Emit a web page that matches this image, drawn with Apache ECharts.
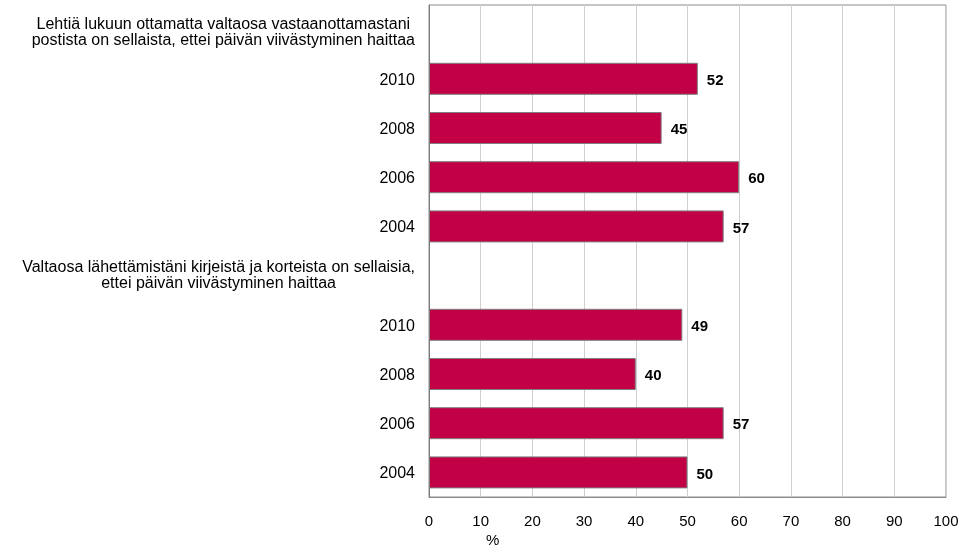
<!DOCTYPE html>
<html>
<head>
<meta charset="utf-8">
<script src="https://cdn.jsdelivr.net/npm/echarts@6/dist/echarts.min.js"></script>
<style>
  html, body { margin: 0; padding: 0; background: #fff; }
  #chart { width: 963px; height: 551px; }
</style>
</head>
<body>
<div id="chart"></div>
<script>
// Row labels, top to bottom. Group headings occupy their own rows with no bar.
const heading1 = 'Lehtiä lukuun ottamatta valtaosa vastaanottamastani\npostista on sellaista, ettei päivän viivästyminen haittaa';
const heading2 = 'Valtaosa lähettämistäni kirjeistä ja korteista on sellaisia,\nettei päivän viivästyminen haittaa';
const rowLabels = [heading1, '2010', '2008', '2006', '2004', heading2, '2010', '2008', '2006', '2004'];
const headingRows = [0, 5];

// Share of respondents (%) per year; null on heading rows.
const shareValues = [null, 52, 45, 60, 57, null, 49, 40, 57, 50];

// Value axis ticks.
const xTicks = [0, 10, 20, 30, 40, 50, 60, 70, 80, 90, 100];
const xUnit = '%';

const fontFamily = '"Liberation Sans", Arial, sans-serif';
const chart = echarts.init(document.getElementById('chart'), null, { renderer: 'canvas' });

chart.setOption({
  animation: false,
  backgroundColor: '#ffffff',
  textStyle: { fontFamily: fontFamily },
  grid: {
    left: 429, top: 5, right: 17, bottom: 54,
    show: true, borderColor: '#8c8c8c', borderWidth: 1, backgroundColor: 'transparent'
  },
  xAxis: {
    type: 'value',
    min: xTicks[0],
    max: xTicks[xTicks.length - 1],
    interval: xTicks[1] - xTicks[0],
    axisLine: { show: true, lineStyle: { color: '#8c8c8c', width: 1 } },
    axisTick: { show: false },
    splitLine: { show: true, lineStyle: { color: '#cfcfcf', width: 1 } },
    axisLabel: { color: '#000', fontSize: 15, margin: 17, fontFamily: fontFamily }
  },
  yAxis: {
    type: 'category',
    inverse: true,
    data: rowLabels,
    axisLine: { show: true, lineStyle: { color: '#7a7a7a', width: 1 } },
    axisTick: { show: false },
    splitLine: { show: false },
    axisLabel: {
      color: '#000',
      fontSize: 16,
      margin: 14,
      fontFamily: fontFamily,
      interval: 0,
      formatter: function (value, index) {
        if (index === headingRows[0]) {
          // first heading sits slightly lower inside its row
          return '{gap| }\n{h|' + value + '}';
        }
        return headingRows.indexOf(index) >= 0 ? '{h|' + value + '}' : '{y|' + value + '}';
      },
      rich: {
        gap: { fontSize: 1, lineHeight: 5 },
        y: { fontSize: 16, color: '#000', fontFamily: fontFamily, padding: [3, 0, 0, 0] },
        h: { align: 'center', fontSize: 16, lineHeight: 16, color: '#000', fontFamily: fontFamily }
      }
    }
  },
  graphic: [{
    type: 'text',
    left: 486,
    top: 533,
    style: { text: xUnit, fontSize: 15, fill: '#000', fontFamily: fontFamily }
  }],
  series: [{
    type: 'bar',
    data: shareValues,
    barWidth: 32,
    itemStyle: { color: '#c20045', borderColor: '#7f7f7f', borderWidth: 1 },
    label: {
      show: true,
      position: 'right',
      distance: 9,
      offset: [0, 2],
      color: '#000',
      fontWeight: 'bold',
      fontSize: 15,
      fontFamily: fontFamily
    }
  }]
});
</script>
</body>
</html>
